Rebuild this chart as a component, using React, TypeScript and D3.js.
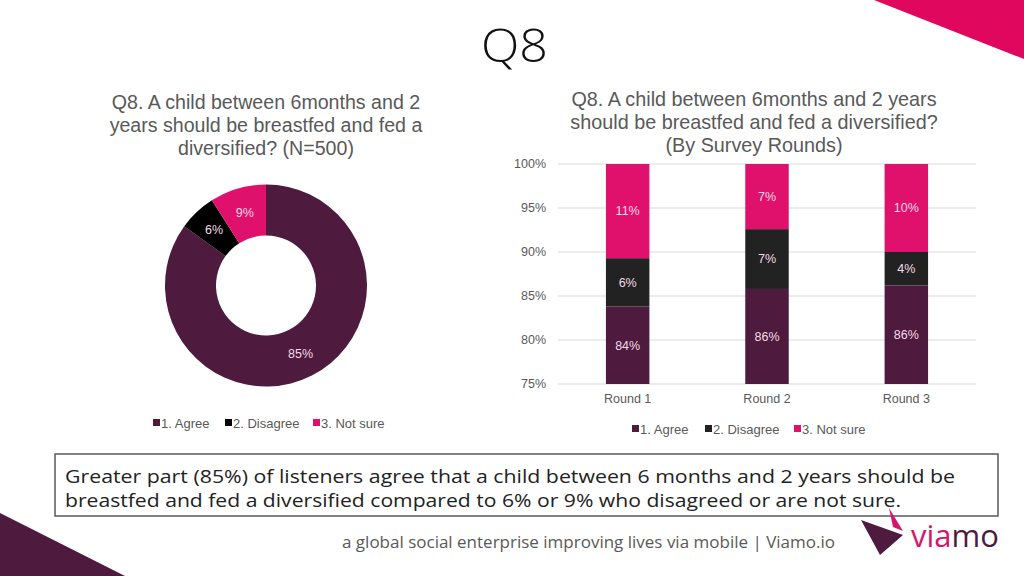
import * as d3 from 'd3'

// donut: overall answers (N=500)
const donutCategories = ['1. Agree', '2. Disagree', '3. Not sure']
const donutValues = [85, 6, 9]

// stacked bars: by survey round
const rounds = ['Round 1', 'Round 2', 'Round 3']
const agreeByRound = [83.8, 85.8, 86.2]
const disagreeByRound = [5.5, 6.8, 3.8]
const notSureByRound = [10.7, 7.4, 10.0]
const yTicks = [75, 80, 85, 90, 95, 100]

const colors = ['#4e1a3d', '#000000', '#e0106d']
const barColors = ['#4e1a3d', '#222222', '#e0106d']
const labelColor = '#f3dbe8'
const textGray = '#595959'
const chartFont = '"Liberation Sans", Arial, sans-serif'
const slideFont = '"Open Sans", sans-serif'

function Donut() {
  const cx = 266
  const cy = 285.5
  const pie = d3.pie<number>().sort(null).value(d => d)
  const arcs = pie(donutValues)
  const arc = d3.arc<d3.PieArcDatum<number>>().innerRadius(50).outerRadius(101)
  const labelArc = d3.arc<d3.PieArcDatum<number>>().innerRadius(50).outerRadius(102)

  const legendX = [153, 225, 313]

  return (
    <g>
      {['Q8. A child between 6months and 2', 'years should be breastfed and fed a', 'diversified? (N=500)'].map((t, i) => (
        <text key={i} x={266} y={109 + i * 23} textAnchor="middle" fontSize={19.6} fill={textGray} fontFamily={chartFont}>{t}</text>
      ))}
      <g transform={`translate(${cx},${cy})`}>
        {arcs.map((a, i) => (
          <path key={i} d={arc(a)!} fill={colors[i]} />
        ))}
        {arcs.map((a, i) => {
          const [x, y] = labelArc.centroid(a)
          return (
            <text key={i} x={x} y={y} dy="0.35em" textAnchor="middle" fontSize={12.5} fill={labelColor} fontFamily={chartFont}>
              {donutValues[i]}%
            </text>
          )
        })}
      </g>
      {donutCategories.map((c, i) => (
        <g key={c} transform={`translate(${legendX[i]},423)`}>
          <rect x={0} y={-4} width={7} height={7} fill={colors[i]} />
          <text x={8} y={0} dy="0.35em" fontSize={13} fill={textGray} fontFamily={chartFont}>{c}</text>
        </g>
      ))}
    </g>
  )
}

function StackedBars() {
  const x = d3.scaleBand<string>().domain(rounds).range([558, 976]).paddingInner(0.688).paddingOuter(0.344)
  const y = d3.scaleLinear().domain([75, 100]).range([384, 164])
  const series = [agreeByRound, disagreeByRound, notSureByRound]

  const legendX = [632, 705, 794]

  return (
    <g>
      {['Q8. A child between 6months and 2 years', 'should be breastfed and fed a diversified?', '(By Survey Rounds)'].map((t, i) => (
        <text key={i} x={754} y={106 + i * 23} textAnchor="middle" fontSize={19.8} fill={textGray} fontFamily={chartFont}>{t}</text>
      ))}
      {yTicks.map(t => (
        <g key={t}>
          <line x1={558} x2={976} y1={y(t)} y2={y(t)} stroke="#d9d9d9" strokeWidth={1} />
          <text x={546} y={y(t)} dy="0.35em" textAnchor="end" fontSize={12.5} fill={textGray} fontFamily={chartFont}>{t}%</text>
        </g>
      ))}
      {rounds.map((r, ri) => {
        let base = 0
        const bx = x(r)!
        const bw = x.bandwidth()
        return (
          <g key={r}>
            {series.map((s, si) => {
              const lo = base
              const hi = base + s[ri]
              base = hi
              const y0 = y(Math.max(lo, 75))
              const y1 = y(Math.min(hi, 100))
              return (
                <g key={si}>
                  <rect x={bx} y={y1} width={bw} height={y0 - y1} fill={barColors[si]} />
                  <text x={bx + bw / 2} y={(y0 + y1) / 2} dy="0.35em" textAnchor="middle" fontSize={12.5} fill={labelColor} fontFamily={chartFont}>
                    {Math.round(s[ri])}%
                  </text>
                </g>
              )
            })}
            <text x={bx + bw / 2} y={399} dy="0.35em" textAnchor="middle" fontSize={12.5} fill={textGray} fontFamily={chartFont}>{r}</text>
          </g>
        )
      })}
      {donutCategories.map((c, i) => (
        <g key={c} transform={`translate(${legendX[i]},429)`}>
          <rect x={0} y={-4} width={7} height={7} fill={barColors[i]} />
          <text x={8} y={0} dy="0.35em" fontSize={13} fill={textGray} fontFamily={chartFont}>{c}</text>
        </g>
      ))}
    </g>
  )
}

export default function App() {
  return (
    <div style={{ position: 'fixed', left: 0, top: 0, width: 1024, height: 576, background: '#fff' }}>
      <svg width={1024} height={576} viewBox="0 0 1024 576" style={{ display: 'block' }}>
        <rect width={1024} height={576} fill="#fff" />
        <polygon points="874,0 1024,0 1024,59" fill="#e0075f" />
        <polygon points="0,513 125,576 0,576" fill="#4e1a3d" />
        <text x={481} y={62} fontSize={46} fontWeight={300} fill="#111" fontFamily={slideFont} textLength={67} lengthAdjust="spacingAndGlyphs">Q8</text>

        <Donut />
        <StackedBars />

        <rect x={55} y={454} width={943} height={62} fill="none" stroke={textGray} strokeWidth={1.5} />
        <text x={65} y={483} fontSize={19} fill="#222" fontFamily={slideFont} textLength={890} lengthAdjust="spacingAndGlyphs">
          Greater part (85%) of listeners agree that a child between 6 months and 2 years should be
        </text>
        <text x={65} y={507} fontSize={19} fill="#222" fontFamily={slideFont} textLength={836} lengthAdjust="spacingAndGlyphs">
          breastfed and fed a diversified compared to 6% or 9% who disagreed or are not sure.
        </text>

        <text x={342} y={548} fontSize={15.5} fill={textGray} fontFamily={slideFont} textLength={493} lengthAdjust="spacingAndGlyphs">
          a global social enterprise improving lives via mobile | Viamo.io
        </text>

        <polygon points="889,508 903,531 893,527" fill="#d6156b" />
        <polygon points="861,520 903,535 880,555" fill="#4e1a3d" />
        <text x={911} y={547} fontSize={31} fontFamily={slideFont}>
          <tspan fill="#d6156b">via</tspan>
          <tspan fill="#4e1a3d">mo</tspan>
        </text>
      </svg>
    </div>
  )
}
